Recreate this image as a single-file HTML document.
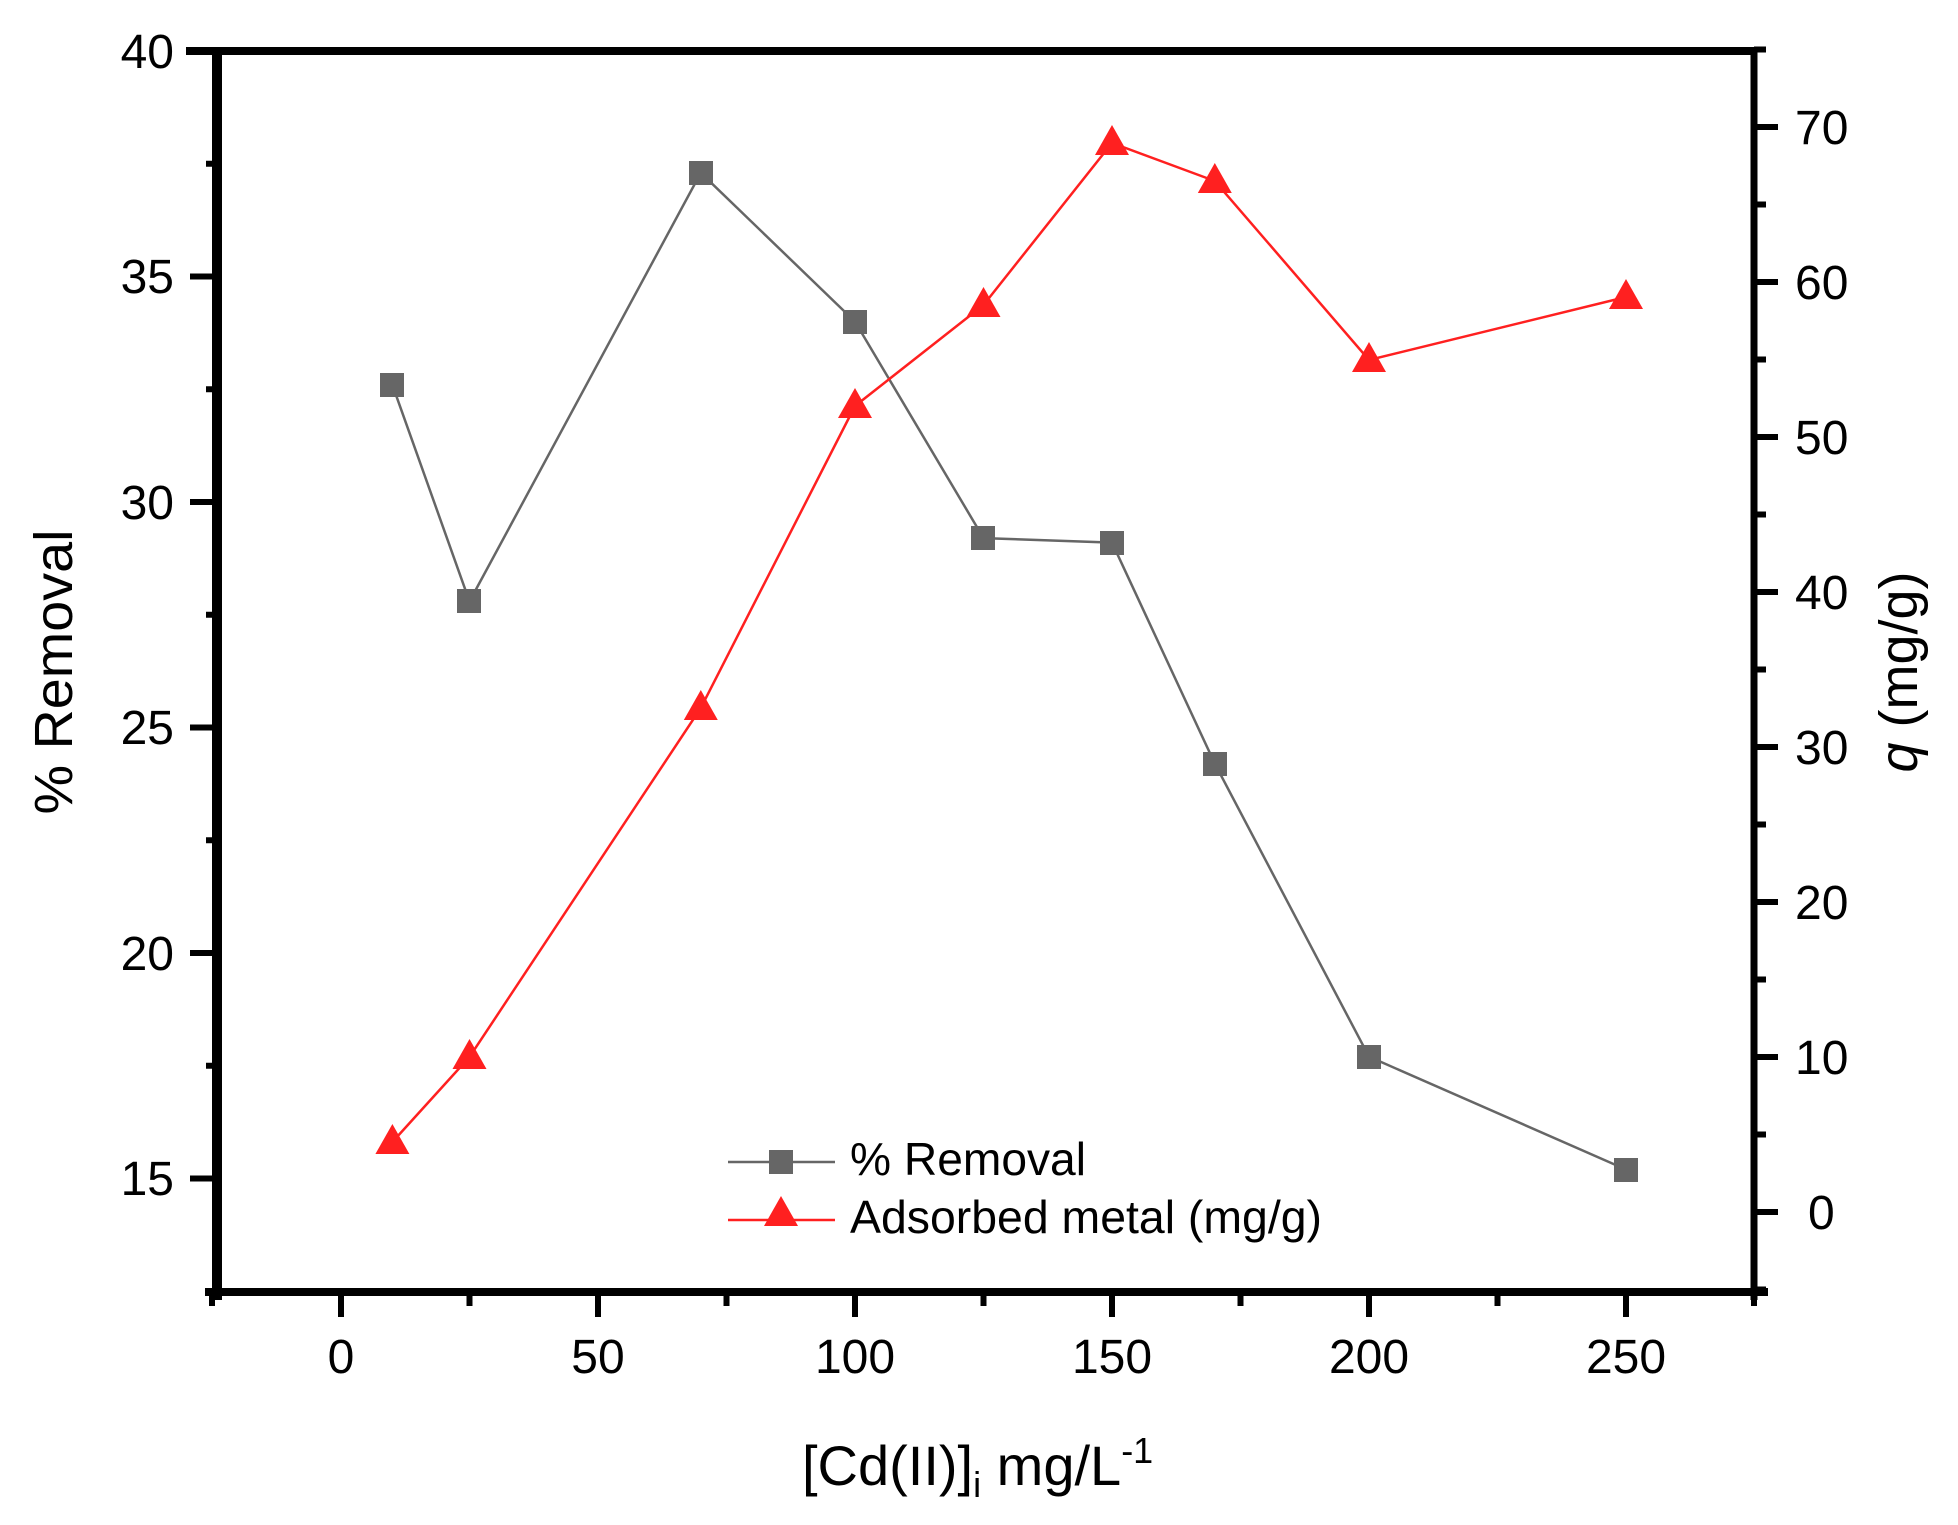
<!DOCTYPE html>
<html><head><meta charset="utf-8"><style>html,body{margin:0;padding:0;background:#fff}svg{display:block}</style></head>
<body>
<svg width="1958" height="1525" viewBox="0 0 1958 1525" xmlns="http://www.w3.org/2000/svg" font-family="Liberation Sans, Arial, sans-serif">
<rect width="1958" height="1525" fill="#fff"/>
<g stroke="#000" fill="none">
  <line x1="186" y1="51" x2="1754" y2="51" stroke-width="8"/>
  <line x1="217" y1="47" x2="217" y2="1300" stroke-width="10"/>
  <line x1="1754" y1="47" x2="1754" y2="1300" stroke-width="7"/>
  <line x1="205" y1="1292" x2="1768" y2="1292" stroke-width="8"/>
  <path stroke-width="6" d="M190 51H217M190 276.5H217M190 502H217M190 727.5H217M190 953H217M190 1178.5H217
  M206 163.7H217M206 389.2H217M206 614.7H217M206 840.2H217M206 1065.7H217"/>
  <path stroke-width="6" d="M1754 127H1778M1754 282H1778M1754 437H1778M1754 592H1778M1754 747H1778M1754 902H1778M1754 1057H1778M1754 1212H1778
  M1754 49.5H1766M1754 204.5H1766M1754 359.5H1766M1754 514.5H1766M1754 669.5H1766M1754 824.5H1766M1754 979.5H1766M1754 1134.5H1766M1754 1289.5H1766"/>
  <path stroke-width="6" d="M341 1292V1317M598 1292V1317M855 1292V1317M1112 1292V1317M1369 1292V1317M1626 1292V1317
  M469.5 1292V1306M726.5 1292V1306M983.5 1292V1306M1240.5 1292V1306M1497.5 1292V1306M1754 1292V1306M212 1292V1306"/>
</g>
<g font-size="48" fill="#000" text-anchor="end">
  <text x="174" y="68">40</text><text x="174" y="293">35</text><text x="174" y="519">30</text>
  <text x="174" y="744">25</text><text x="174" y="970">20</text><text x="174" y="1195">15</text>
</g>
<g font-size="48" fill="#000" text-anchor="start">
  <text x="1795" y="144">70</text><text x="1795" y="299">60</text><text x="1795" y="454">50</text>
  <text x="1795" y="609">40</text><text x="1795" y="764">30</text><text x="1795" y="919">20</text>
  <text x="1795" y="1074">10</text><text x="1808" y="1229">0</text>
</g>
<g font-size="48" fill="#000" text-anchor="middle">
  <text x="341" y="1373">0</text><text x="598" y="1373">50</text><text x="855" y="1373">100</text>
  <text x="1112" y="1373">150</text><text x="1369" y="1373">200</text><text x="1626" y="1373">250</text>
</g>
<text font-size="54" text-anchor="middle" transform="translate(72,672) rotate(-90)" textLength="285" lengthAdjust="spacingAndGlyphs">% Removal</text>
<text font-size="54" text-anchor="middle" transform="translate(1917,672) rotate(-90)"><tspan font-style="italic">q</tspan> (mg/g)</text>
<text font-size="56" x="802" y="1485">[Cd(II)]<tspan font-size="36" dy="12">i</tspan><tspan dy="-12"> mg/L</tspan><tspan font-size="36" dy="-22">-1</tspan></text>
<polyline fill="none" stroke="#666" stroke-width="2.5" points="392.4,384.9 469.5,601.4 700.8,172.8 855,321.6 983.5,538.1 1112,542.6 1214.8,763.6 1369,1056.7 1626,1169.5"/>
<g fill="#666">
  <rect x="380" y="373" width="24" height="24"/><rect x="457" y="589" width="24" height="24"/>
  <rect x="689" y="161" width="24" height="24"/><rect x="843" y="310" width="24" height="24"/>
  <rect x="971" y="526" width="24" height="24"/><rect x="1100" y="531" width="24" height="24"/>
  <rect x="1203" y="752" width="24" height="24"/><rect x="1357" y="1045" width="24" height="24"/>
  <rect x="1614" y="1158" width="24" height="24"/>
</g>
<polyline fill="none" stroke="#ff2020" stroke-width="2.5" points="392.4,1142 469.5,1057 700.8,708 855,406 983.5,305 1112,143 1214.8,181 1369,360 1626,297"/>
<g fill="#ff2020">
  <path d="M392.4 1124l17 30h-34z"/><path d="M469.5 1039l17 30h-34z"/><path d="M700.8 690l17 30h-34z"/>
  <path d="M855 388l17 30h-34z"/><path d="M983.5 287l17 30h-34z"/><path d="M1112 125l17 30h-34z"/>
  <path d="M1214.8 163l17 30h-34z"/><path d="M1369 342l17 30h-34z"/><path d="M1626 279l17 30h-34z"/>
</g>
<line x1="728" y1="1162" x2="835" y2="1162" stroke="#666" stroke-width="2.5"/>
<rect x="769" y="1150" width="24" height="24" fill="#666"/>
<line x1="728" y1="1220" x2="835" y2="1220" stroke="#ff2020" stroke-width="2.5"/>
<path d="M781 1196l17 30h-34z" fill="#ff2020"/>
<text x="850" y="1175" font-size="46" textLength="236" lengthAdjust="spacingAndGlyphs">% Removal</text>
<text x="850" y="1233" font-size="46" textLength="472" lengthAdjust="spacingAndGlyphs">Adsorbed metal (mg/g)</text>
</svg>
</body></html>
